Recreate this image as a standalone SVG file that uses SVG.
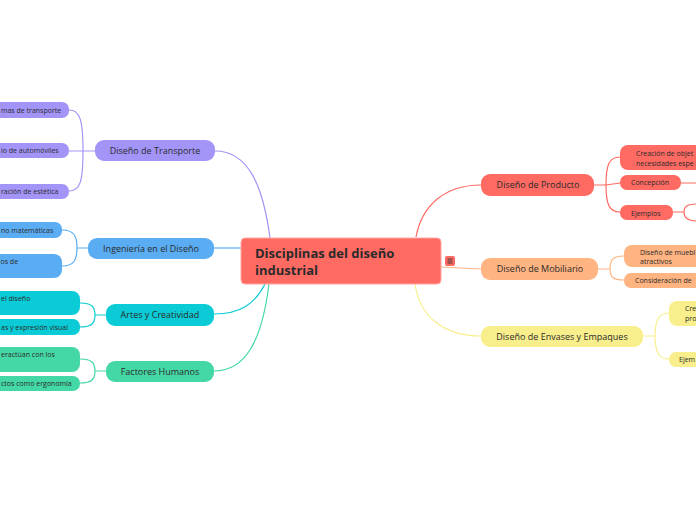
<svg xmlns="http://www.w3.org/2000/svg" width="696" height="520" viewBox="0 0 696 520">
<style>
text{font-family:"Open Sans","Noto Sans","Liberation Sans",sans-serif;fill:#2a2a2a}
.m{font-size:9px;text-anchor:middle}
.c{font-size:7px}
.ln{fill:none;stroke-width:1.2}
.pu{fill:#A395F8}.pus{stroke:#A395F8}
.bl{fill:#5AADF3}.bls{stroke:#5AADF3}
.cy{fill:#0BCCD6}.cys{stroke:#0BCCD6}
.gr{fill:#44D8A6}.grs{stroke:#44D8A6}
.rd{fill:#FF6B63}.rds{stroke:#FF6B63}
.pe{fill:#FFB482}.pes{stroke:#FFB482}
.ye{fill:#F8EF8C}.yes{stroke:#F8EF8C}
</style>
<rect width="696" height="520" fill="#ffffff"/>
<g id="connectors">
<path class="ln pus" d="M270,238 C263,185 248,151 215,151"/>
<path class="ln bls" d="M241,248 L214,248"/>
<path class="ln cys" d="M265,284 C255,304 240,314 214,314"/>
<path class="ln grs" d="M269,284 C262,340 246,371 214,371"/>
<path class="ln rds" d="M416,237 C422,205 445,185 481,185"/>
<path class="ln pes" d="M441,267 L481,269"/>
<path class="ln yes" d="M415,284 C420,318 445,336 481,336"/>
<path class="ln pus" d="M95,151 H83 M83,151 C83,120 80,110 69,110 M83,151 H69 M83,151 C83,182 80,191 69,191"/>
<path class="ln bls" d="M88,248 H77 M77,248 C77,236 74,230 62,230 M77,248 C77,260 74,266 62,266"/>
<path class="ln cys" d="M106,315 H95 M95,315 C95,307 92,303 80,303 M95,315 C95,323 92,327 80,327"/>
<path class="ln grs" d="M106,371 H95 M95,371 C95,363 92,359 80,359 M95,371 C95,379 92,383 80,383"/>
<path class="ln rds" d="M594,185 H606 M606,185 C606,165 609,157 620,157 M606,185 L620,183 M606,185 C606,204 609,212 620,212"/>
<path class="ln rds" d="M681,183 H696 M673,212 H684 M684,212 C684,206 688,204 697,204 M684,212 C684,218 688,221 697,221"/>
<path class="ln pes" d="M598,269 H610 M610,269 C610,260 613,256 624,256 M610,269 C610,277 613,280 624,280"/>
<path class="ln yes" d="M643,336 H655 M655,336 C655,320 659,313 669,313 M655,336 C655,352 659,359 669,359"/>
</g>
<g id="central">
<rect x="241" y="238" width="200" height="46" rx="4" fill="#FF6B63" stroke="#ffa6a1" stroke-width="1"/>
<text x="255" y="258" style="font-size:13px;font-weight:bold">Disciplinas del diseño</text>
<text x="255" y="275" style="font-size:13px;font-weight:bold">industrial</text>
<rect x="445" y="256" width="10" height="10" rx="2" fill="#FF6B63"/>
<path d="M447.5,259 H452.5 M447.5,261 H452.5 M447.5,263 H452.5" stroke="#333" stroke-width="0.9"/>
</g>
<g id="transporte">
<rect class="pu" x="95" y="140" width="120" height="21" rx="9"/>
<text class="m" x="155" y="154">Diseño de Transporte</text>
</g>
<g id="transporte-1"><rect class="pu" x="-60" y="102" width="129" height="16" rx="7"/><text class="c" x="1" y="112.5">mas de transporte</text></g>
<g id="transporte-2"><rect class="pu" x="-60" y="143" width="129" height="15" rx="7"/><text class="c" x="1" y="153">io de automóviles</text></g>
<g id="transporte-3"><rect class="pu" x="-60" y="184" width="129" height="15" rx="7"/><text class="c" x="1" y="194">ración de estética</text></g>
<g id="ingenieria">
<rect class="bl" x="88" y="238" width="126" height="21" rx="9"/>
<text class="m" x="151" y="251.5">Ingeniería en el Diseño</text>
</g>
<g id="ingenieria-1"><rect class="bl" x="-60" y="222" width="122" height="16" rx="7"/><text class="c" x="1" y="232.5">no matemáticas</text></g>
<g id="ingenieria-2"><rect class="bl" x="-60" y="254" width="122" height="24" rx="8"/><text class="c" x="0.5" y="264">os de</text></g>
<g id="artes">
<rect class="cy" x="106" y="304" width="108" height="22" rx="9"/>
<text class="m" x="160" y="318">Artes y Creatividad</text>
</g>
<g id="artes-1"><rect class="cy" x="-60" y="291" width="140" height="24" rx="8"/><text class="c" x="1" y="301">el diseño</text></g>
<g id="artes-2"><rect class="cy" x="-60" y="319" width="140" height="16" rx="7"/><text class="c" x="1" y="329.5">as y expresión visual</text></g>
<g id="factores">
<rect class="gr" x="106" y="361" width="108" height="21" rx="9"/>
<text class="m" x="160" y="374.5">Factores Humanos</text>
</g>
<g id="factores-1"><rect class="gr" x="-60" y="347" width="140" height="25" rx="8"/><text class="c" x="1" y="357">eractúan con los</text></g>
<g id="factores-2"><rect class="gr" x="-60" y="376" width="140" height="15" rx="7"/><text class="c" x="1" y="386">ctos como ergonomía</text></g>
<g id="producto">
<rect class="rd" x="481" y="174" width="113" height="22" rx="9"/>
<text class="m" x="538" y="188">Diseño de Producto</text>
</g>
<g id="producto-1"><rect class="rd" x="620" y="145" width="100" height="25" rx="8"/><text class="c" x="636" y="156">Creación de objet</text><text class="c" x="636" y="166">necesidades espe</text></g>
<g id="producto-2"><rect class="rd" x="620" y="175" width="61" height="15" rx="7"/><text class="c" x="631" y="185">Concepción</text></g>
<g id="producto-3"><rect class="rd" x="620" y="205" width="53" height="15" rx="7"/><text class="c" x="631" y="215.5">Ejemplos</text></g>
<g id="mobiliario">
<rect class="pe" x="481" y="258" width="117" height="22" rx="9"/>
<text class="m" x="540" y="272">Diseño de Mobiliario</text>
</g>
<g id="mobiliario-1"><rect class="pe" x="624" y="245" width="100" height="22" rx="8"/><text class="c" x="640" y="254.5">Diseño de muebl</text><text class="c" x="640" y="264">atractivos</text></g>
<g id="mobiliario-2"><rect class="pe" x="624" y="273" width="100" height="15" rx="7"/><text class="c" x="635" y="283">Consideración de</text></g>
<g id="envases">
<rect class="ye" x="481" y="326" width="162" height="21" rx="9"/>
<text class="m" x="562" y="339.5">Diseño de Envases y Empaques</text>
</g>
<g id="envases-1"><rect class="ye" x="669" y="301" width="60" height="25" rx="8"/><text class="c" x="685" y="311">Cre</text><text class="c" x="685" y="321">pro</text></g>
<g id="envases-2"><rect class="ye" x="669" y="352" width="60" height="15" rx="7"/><text class="c" x="679" y="362">Ejem</text></g>
</svg>
